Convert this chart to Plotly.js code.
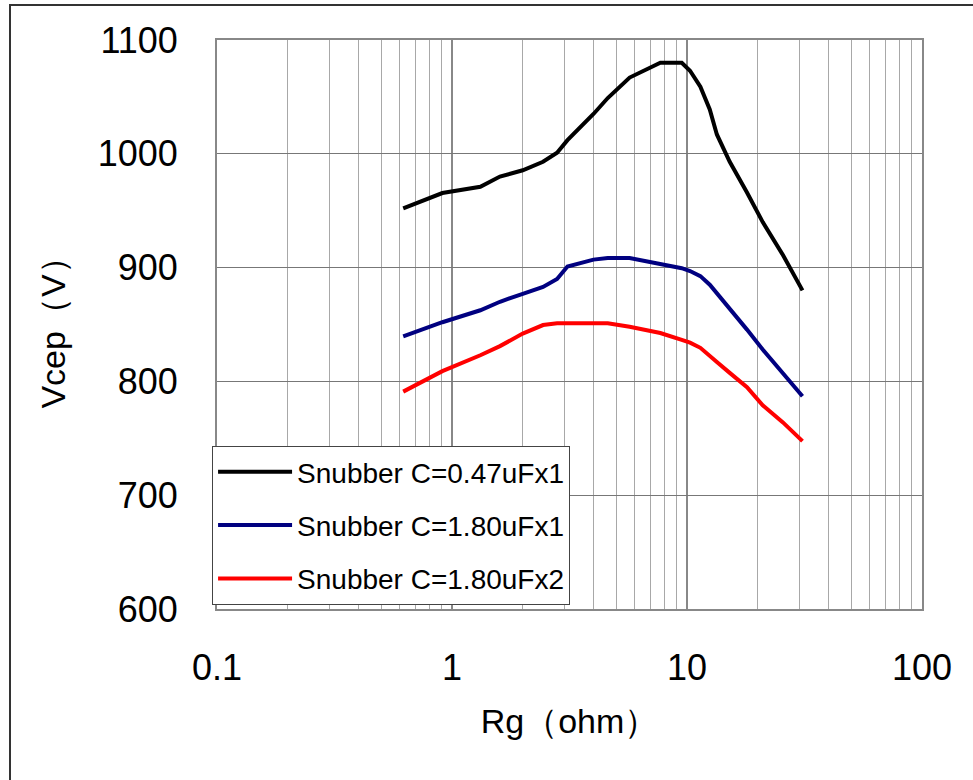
<!DOCTYPE html>
<html>
<head>
<meta charset="utf-8">
<script src="https://cdn.plot.ly/plotly-3.0.1.min.js"></script>
<style>
  html, body { margin: 0; padding: 0; background: #fff; }
  #wrap { position: relative; width: 973px; height: 780px; overflow: hidden; }
  #chart { position: absolute; left: 0; top: 0; width: 973px; height: 780px; }
  #frame { position: absolute; left: 9px; top: 4px; width: 980px; height: 800px;
           border-left: 2px solid #333; border-top: 2px solid #333; pointer-events: none; }
</style>
</head>
<body>
<div id="wrap">
  <div id="chart"></div>
  <div id="frame"></div>
</div>
<script>
// Gate resistance (ohm)
const rg = [0.62, 0.91, 1.32, 1.6, 2.0, 2.44, 2.8, 3.1, 4.0, 4.6, 5.7, 7.7,
            9.5, 10.3, 11.4, 12.5, 13.4, 15.2, 18, 21, 25.6, 31];

// Peak collector-emitter voltage (V) per snubber configuration
const vcep047x1 = [952, 965.5, 971, 980, 985.5, 993, 1001, 1012, 1035, 1049, 1067, 1080,
                   1080, 1073, 1059, 1039, 1017, 993, 966, 940, 911, 880];
const vcep180x1 = [839.5, 852, 862.5, 870, 877, 883, 890, 901, 907, 908.5, 908.5, 903.5,
                   899.5, 897, 892.5, 885, 877.5, 864.5, 845.5, 828, 807.5, 787];
const vcep180x2 = [791, 809, 823, 831, 842, 849.5, 851, 851, 851, 851, 848, 842.5,
                   836.5, 834, 829.5, 823, 817, 807.5, 795, 779, 764, 747.5];

const seriesNames = ['Snubber C=0.47uFx1', 'Snubber C=1.80uFx1', 'Snubber C=1.80uFx2'];
const seriesColors = ['#000000', '#000080', '#ff0000'];
const seriesValues = [vcep047x1, vcep180x1, vcep180x2];

const xMajor = [0.1, 1, 10, 100];
const xMajorText = ['0.1', '1', '10', '100'];
const xMinor = [];
[0.1, 1, 10].forEach(d => { for (let k = 2; k <= 9; k++) xMinor.push(+(d * k).toPrecision(3)); });

const font = 'Liberation Sans, Arial, sans-serif';

const traces = seriesValues.map((v, i) => ({
  type: 'scatter',
  mode: 'lines',
  x: rg,
  y: v,
  name: seriesNames[i],
  legendgroup: 'g' + i,
  line: { color: seriesColors[i], width: 4 }
}));

const layout = {
  width: 973,
  height: 780,
  margin: { l: 217, r: 51, t: 40, b: 171 },
  paper_bgcolor: '#ffffff',
  plot_bgcolor: '#ffffff',
  font: { family: font, color: '#000' },
  showlegend: true,
  legend: {
    x: -0.007, xanchor: 'left',
    y: 0.2865, yanchor: 'top',
    bgcolor: '#ffffff',
    bordercolor: '#444',
    borderwidth: 1,
    font: { family: font, size: 28, color: '#000' },
    itemwidth: 74,
    tracegroupgap: 14,
    traceorder: 'grouped'
  },
  xaxis: {
    type: 'log',
    range: [-1, 2],
    tickmode: 'array',
    tickvals: xMajor,
    ticktext: xMajorText,
    ticks: '',
    ticklabelstandoff: 26,
    tickfont: { family: font, size: 36 },
    showgrid: true,
    gridcolor: '#888',
    gridwidth: 1.5,
    minor: { tickmode: 'array', tickvals: xMinor, showgrid: true, gridcolor: '#a8a8a8', gridwidth: 1, ticks: '' },
    showline: true,
    mirror: true,
    linecolor: '#888',
    linewidth: 2,
    zeroline: false,
    title: { text: 'Rg（ohm）', font: { family: font, size: 34 }, standoff: 22 }
  },
  yaxis: {
    range: [600, 1100],
    dtick: 100,
    tick0: 600,
    ticks: '',
    ticklabelstandoff: 30,
    tickfont: { family: font, size: 36 },
    showgrid: true,
    gridcolor: '#777',
    gridwidth: 1,
    showline: true,
    mirror: true,
    linecolor: '#888',
    linewidth: 2,
    zeroline: false,
    title: { text: 'Vcep（V）', font: { family: font, size: 34 }, standoff: 22 }
  },
  // vertical axis crossing at Rg = 1
  yaxis2: {
    overlaying: 'y',
    anchor: 'free',
    position: 1 / 3,
    side: 'right',
    range: [600, 1100],
    dtick: 100,
    tick0: 600,
    showgrid: false,
    zeroline: false,
    showline: true,
    linecolor: '#666',
    linewidth: 2,
    ticks: 'outside',
    ticklen: 13,
    tickwidth: 1,
    tickcolor: '#777',
    showticklabels: false
  }
};

Plotly.newPlot('chart', traces, layout, { displayModeBar: false, staticPlot: true });
</script>
</body>
</html>
